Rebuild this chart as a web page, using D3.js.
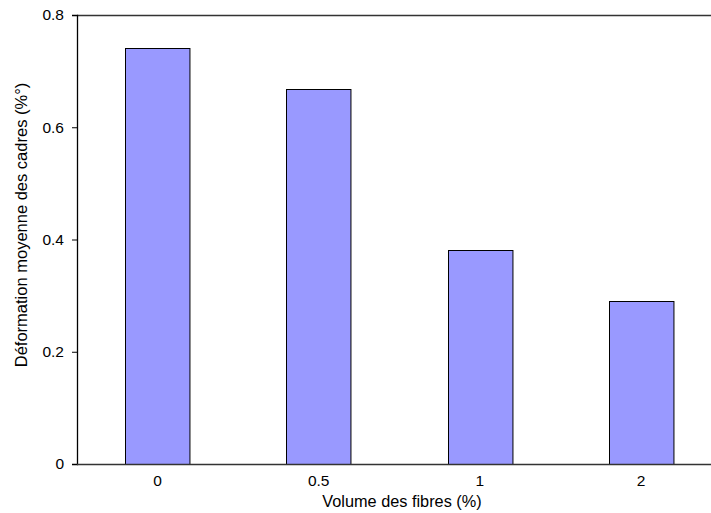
<!DOCTYPE html>
<html>
<head>
<meta charset="utf-8">
<script src="https://cdn.jsdelivr.net/npm/d3@7"></script>
<style>
  html, body { margin: 0; padding: 0; background: #fff; }
  svg text { font-family: "Liberation Sans", Arial, sans-serif; fill: #000; }
</style>
</head>
<body>
<svg id="chart" width="711" height="513"></svg>
<script>
const categories = ["0", "0.5", "1", "2"];
const values = [0.742, 0.668, 0.381, 0.290];
const yTicks = [0, 0.2, 0.4, 0.6, 0.8];
const xTitle = "Volume des fibres (%)";
const yTitle = "Déformation moyenne des cadres (%°)";

const svg = d3.select("#chart");
const plotLeft = 77, plotTop = 15, plotBottom = 464, plotRightEnd = 721.5;

const x = d3.scaleBand().domain(categories).range([plotLeft, plotRightEnd])
  .paddingInner(0.6).paddingOuter(0.3);
const y = d3.scaleLinear().domain([0, 0.8]).range([plotBottom, plotTop]);

// top frame line
svg.append("line").attr("x1", plotLeft).attr("x2", 711)
  .attr("y1", plotTop + 0.5).attr("y2", plotTop + 0.5)
  .attr("stroke", "#333").attr("stroke-width", 1.3);

// bars
svg.append("g").selectAll("rect").data(categories).join("rect")
  .attr("x", d => Math.round(x(d)) + 0.5)
  .attr("y", (d, i) => Math.round(y(values[i])) + 0.5)
  .attr("width", x.bandwidth())
  .attr("height", (d, i) => Math.round(y(0)) - Math.round(y(values[i])))
  .attr("fill", "#9999ff").attr("stroke", "#000").attr("stroke-width", 1);

// y axis
const yAxis = svg.append("g").attr("transform", `translate(${plotLeft},0)`)
  .call(d3.axisLeft(y).tickValues(yTicks).tickSize(5).tickPadding(8)
    .tickFormat(d => d === 0 ? "0" : d3.format(".1f")(d)));
yAxis.select(".domain").attr("stroke", "#000").attr("stroke-width", 1.3);
yAxis.selectAll(".tick line").attr("stroke", "#000");
yAxis.selectAll("text").style("font-size", "15.5px").attr("fill", "#000");

// x axis
const xAxis = svg.append("g").attr("transform", `translate(0,${plotBottom})`)
  .call(d3.axisBottom(x).tickSize(0).tickPadding(11));
xAxis.select(".domain").attr("d", `M${plotLeft},0.5H711`).attr("stroke", "#333").attr("stroke-width", 1.3);
xAxis.selectAll("text").style("font-size", "15.5px").attr("fill", "#000");

// titles
svg.append("text").attr("x", 402).attr("y", 507).attr("text-anchor", "middle")
  .style("font-size", "16.3px").text(xTitle);
svg.append("text").attr("transform", "translate(26.5,225) rotate(-90)")
  .attr("text-anchor", "middle").style("font-size", "16.5px").text(yTitle);
</script>
</body>
</html>
